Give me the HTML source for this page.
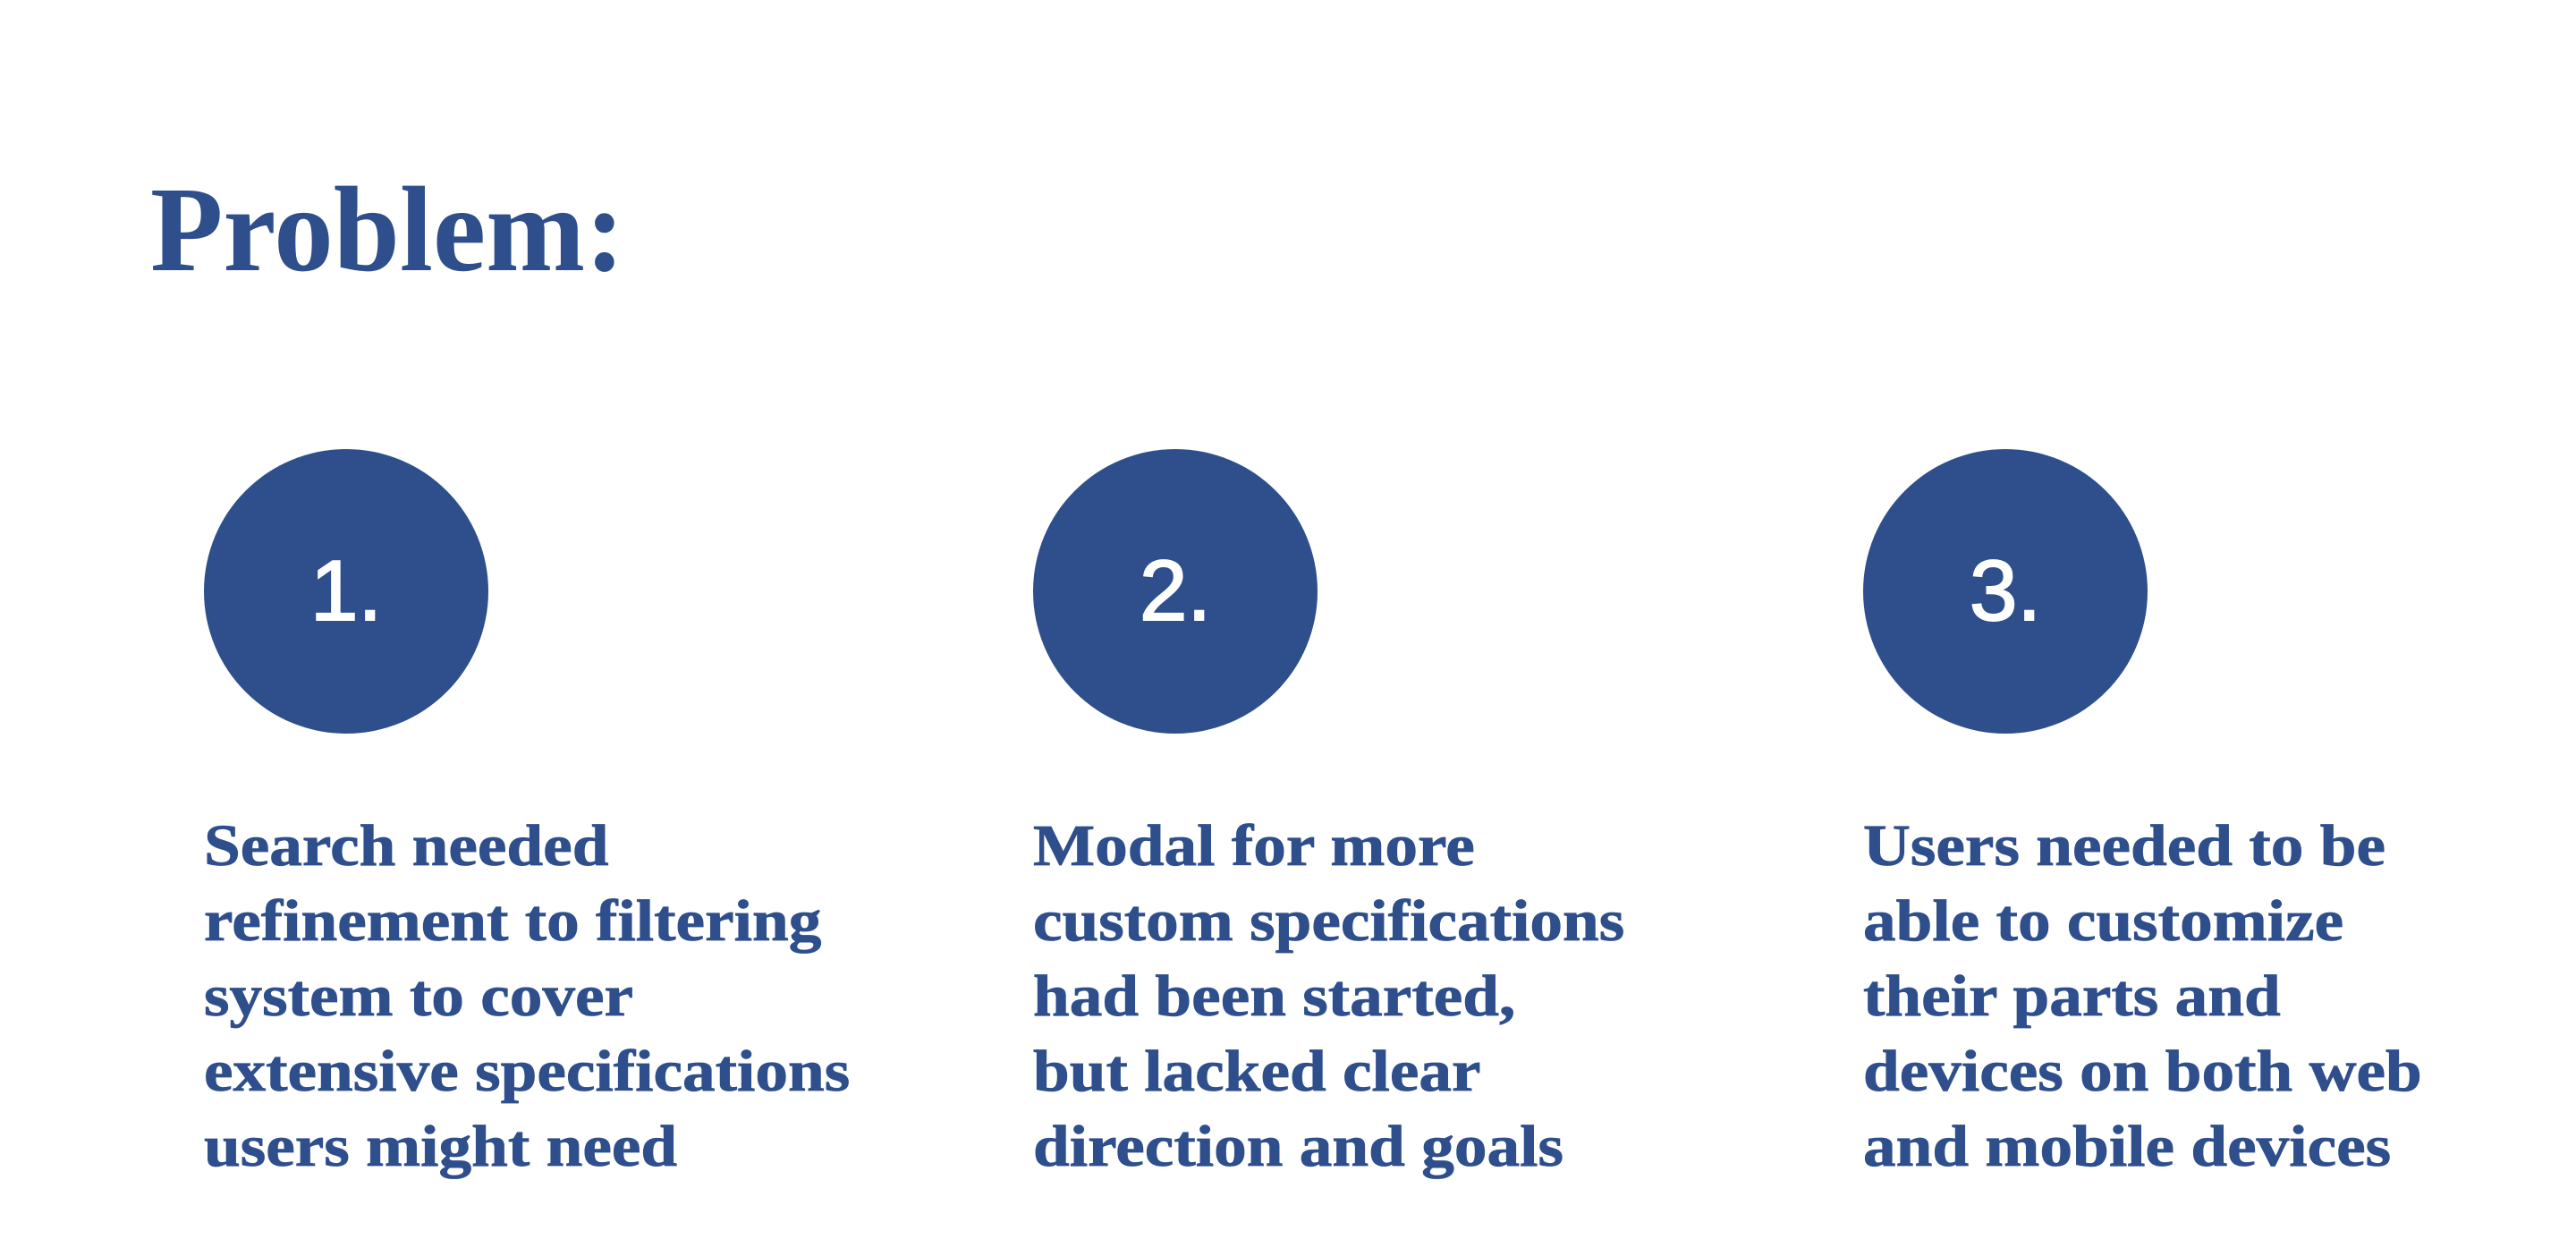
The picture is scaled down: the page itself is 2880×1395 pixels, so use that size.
<!DOCTYPE html>
<html><head><meta charset="utf-8"><style>
html,body{margin:0;padding:0;background:#fff;width:2880px;height:1395px;overflow:hidden;position:relative;font-family:"Liberation Serif",serif;color:#2e4f8c}
.t{position:absolute;left:168px;top:182px;font-size:136px;font-weight:bold;line-height:150px;margin:0;transform:scaleX(0.98);transform-origin:left}
.c{position:absolute;top:502px;width:318px;height:318px;border-radius:50%;background:#2e4f8c;color:#fff;font-family:"Liberation Sans",sans-serif;font-size:96px;line-height:318px;text-align:center;font-weight:500;-webkit-text-stroke:2px #fff}
.p{position:absolute;top:904px;font-size:66px;font-weight:bold;line-height:84px;white-space:nowrap;transform:scaleX(1.11);transform-origin:left;-webkit-text-stroke:0.8px #2e4f8c}
</style></head><body>
<div class="t">Problem:</div>
<div class="c" style="left:228px">1.</div>
<div class="c" style="left:1155px">2.</div>
<div class="c" style="left:2083px">3.</div>
<div class="p" style="left:228px">Search needed<br>refinement to filtering<br>system to cover<br>extensive specifications<br>users might need</div>
<div class="p" style="left:1155px">Modal for more<br>custom specifications<br>had been started,<br>but lacked clear<br>direction and goals</div>
<div class="p" style="left:2083px">Users needed to be<br>able to customize<br>their parts and<br>devices on both web<br>and mobile devices</div>
</body></html>
